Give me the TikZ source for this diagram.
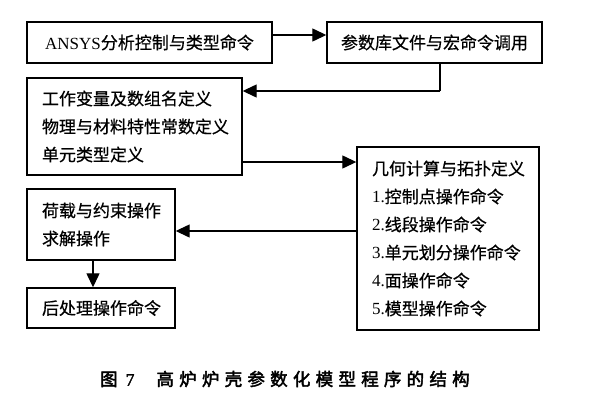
\documentclass[tikz,border=0pt]{standalone}
\usepackage{fontspec}
\setmainfont[FakeBold=0.6]{Noto Sans CJK SC}
\newfontfamily\lat{Liberation Serif}
\newfontfamily\capfont[FakeBold=2.5,LetterSpace=30]{Noto Sans CJK SC}
\newfontfamily\capnum[FakeBold=2]{Liberation Serif}
\usetikzlibrary{arrows.meta}
\tikzset{
  box/.style={draw, line width=1.4pt, rectangle, inner xsep=15pt, inner ysep=0pt,
    font=\fontsize{17}{28}\selectfont, align=left},
  cbox/.style={draw, line width=1.4pt, rectangle, inner sep=0pt,
    font=\fontsize{17}{28}\selectfont, align=center},
  conn/.style={line width=1.3pt, -{Triangle[length=14pt,width=13pt]}},
  plain/.style={line width=1.3pt}
}
\begin{document}
\begin{tikzpicture}[x=1pt,y=-1pt]
\useasboundingbox (0,0) rectangle (591,412);
\node[cbox, minimum width=245pt, minimum height=41pt] (b1) at (149.5,42.5) {{\lat\fontsize{17}{20}\selectfont ANSYS}分析控制与类型命令};
\node[cbox, minimum width=215pt, minimum height=41pt] (b2) at (434.5,42.5) {参数库文件与宏命令调用};
\node[box, minimum width=215pt, minimum height=97pt, text width=185pt] (b3) at (134.5,126.5) {工作变量及数组名定义\\物理与材料特性常数定义\\单元类型定义};
\node[box, minimum width=182pt, minimum height=183pt, text width=152pt] (b4) at (448,238.5) {几何计算与拓扑定义\\{\lat 1.}控制点操作命令\\{\lat 2.}线段操作命令\\{\lat 3.}单元划分操作命令\\{\lat 4.}面操作命令\\{\lat 5.}模型操作命令};
\node[box, minimum width=148pt, minimum height=71pt, text width=118pt] (b5) at (101,224.5) {荷载与约束操作\\求解操作};
\node[box, minimum width=148pt, minimum height=40pt, text width=118pt] (b6) at (101,308) {后处理操作命令};
\node[anchor=west, inner sep=0pt, font=\fontsize{17.5}{20}\selectfont] (cap) at (100,379) {{\capfont 图}\hspace{8pt}{\capnum 7}\hspace{22pt}{\capfont 高炉炉壳参数化模型程序的结构}};
\coordinate (k1) at (440,91);
\draw[conn] (b1.east |- 0,35) -- (b2.west |- 0,35);
\draw[plain] (b2.south -| k1) -- (k1);
\draw[conn] (k1) -- (b3.east |- k1);
\draw[conn] (b3.east |- 0,162) -- (b4.west |- 0,162);
\draw[conn] (b4.west |- 0,231) -- (b5.east |- 0,231);
\draw[conn] (b5.south -| 93,0) -- (b6.north -| 93,0);
\end{tikzpicture}
\end{document}
